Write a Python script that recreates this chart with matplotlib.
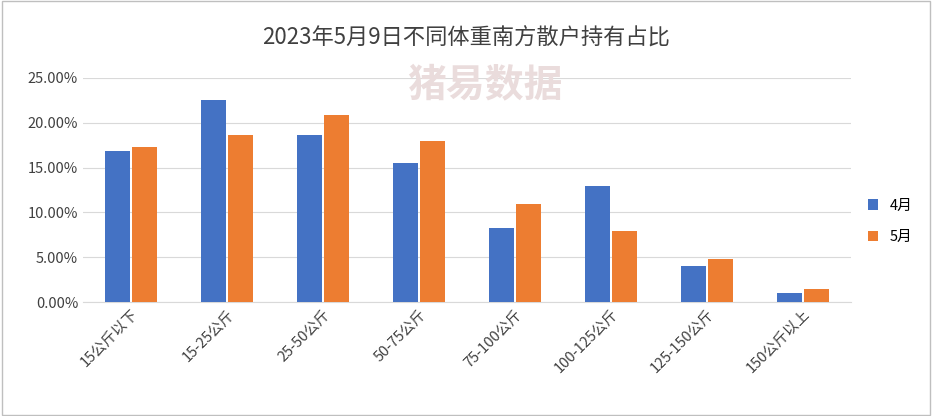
import matplotlib.pyplot as plt
import numpy as np

plt.rcParams['font.family'] = ['Noto Sans CJK SC', 'DejaVu Sans']

categories = ['15公斤以下', '15-25公斤', '25-50公斤', '50-75公斤', '75-100公斤',
              '100-125公斤', '125-150公斤', '150公斤以上']
april = [16.8, 22.5, 18.6, 15.5, 8.3, 12.9, 4.0, 1.0]
may = [17.3, 18.6, 20.9, 18.0, 10.9, 7.9, 4.8, 1.4]

fig = plt.figure(figsize=(9.32, 4.16), dpi=100)
ax = fig.add_axes([83 / 932, 1 - 302 / 416, 768 / 932, 224 / 416])

x = np.arange(len(categories))
w = 0.26
ax.bar(x - w / 2 - 0.015, april, w, color='#4472c4', label='4月', zorder=3)
ax.bar(x + w / 2 + 0.015, may, w, color='#ed7d31', label='5月', zorder=3)

ax.set_xlim(-0.5, len(categories) - 0.5)
ax.set_ylim(0, 25)
ax.set_yticks(np.arange(0, 26, 5))
ax.set_yticklabels([f'{v:.2f}%' for v in np.arange(0, 26, 5)], fontsize=10.5, color='#404040')
ax.set_xticks(x)
ax.set_xticklabels(categories, rotation=45, ha='right', rotation_mode='anchor',
                   fontsize=10.5, color='#404040')
ax.tick_params(length=0)
ax.grid(axis='y', color='#d9d9d9', linewidth=0.8, zorder=0)
for s in ['top', 'right', 'left']:
    ax.spines[s].set_visible(False)
ax.spines['bottom'].set_color('#d9d9d9')

fig.text(0.5, 1 - 38 / 416, '2023年5月9日不同体重南方散户持有占比', ha='center', va='center',
         fontsize=16, color='#404040')
fig.text(485 / 932, 1 - 85 / 416, '猪易数据', ha='center', va='center', fontsize=28,
         color='#eadcdc', weight='bold', zorder=0)

ax.legend(loc='center left', bbox_to_anchor=(1.005, 0.36), frameon=False,
          fontsize=10.5, handlelength=0.7, handleheight=0.7, labelspacing=1.2)

fig.patches.append(plt.Rectangle((0.002, 0.003), 0.996, 0.994, transform=fig.transFigure,
                                 fill=False, edgecolor='#bfbfbf', linewidth=1))
fig.savefig('out.png', dpi=100)
